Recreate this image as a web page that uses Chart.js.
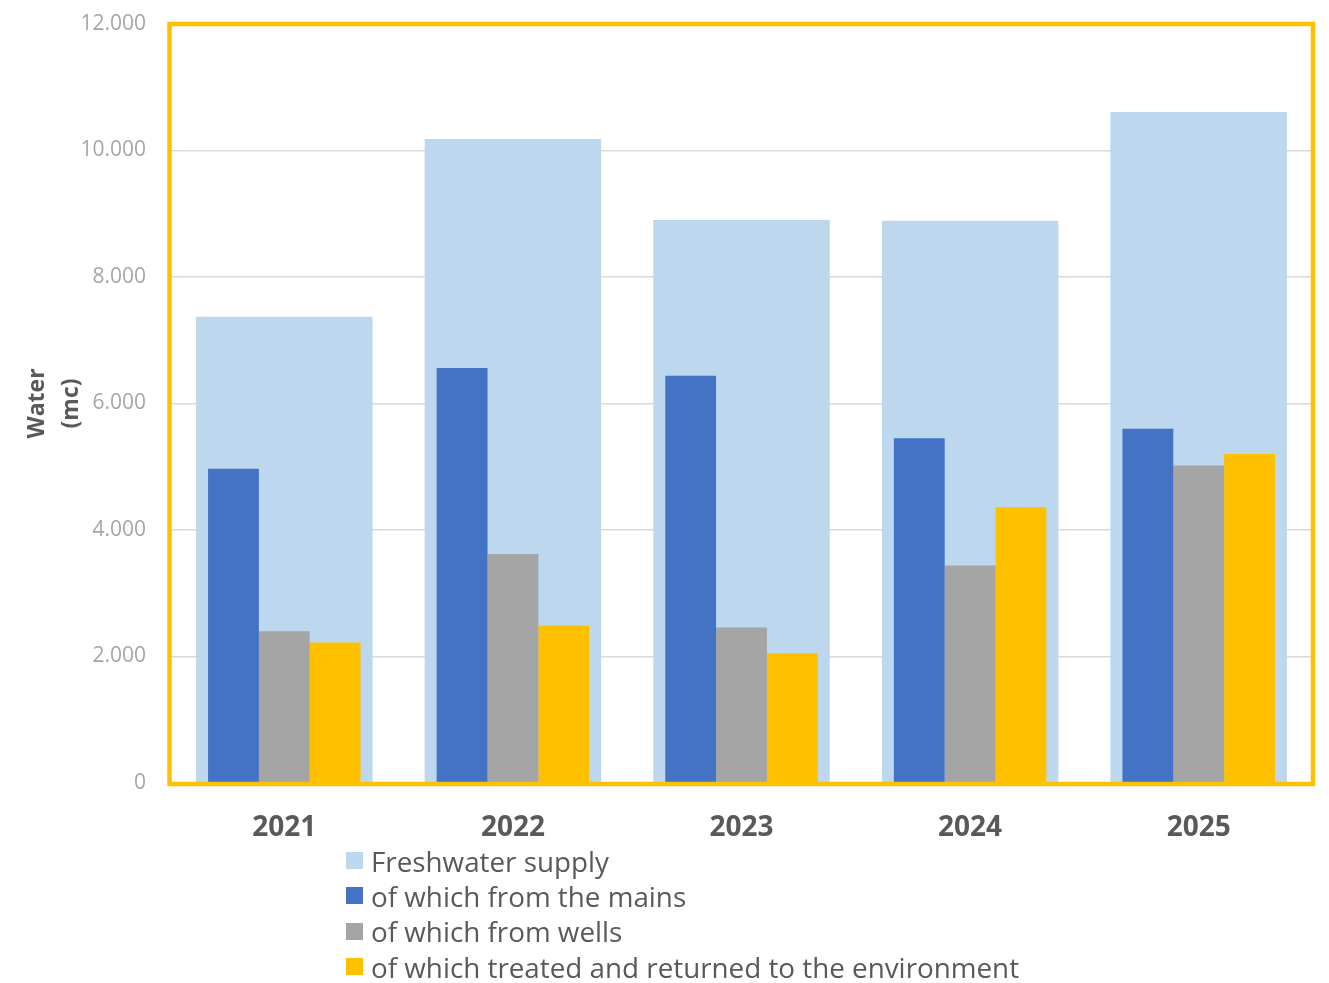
<!DOCTYPE html>
<html>
<head>
<meta charset="utf-8">
<title>Water</title>
<script src="https://cdn.jsdelivr.net/npm/chart.js@4.4.1/dist/chart.umd.min.js"></script>
<style>
  html, body { margin:0; padding:0; background:#fff; }
  #wrap { position:relative; width:1329px; height:983px; }
  #legend { position:absolute; left:346px; top:843px; font-family:'Open Sans', sans-serif; font-size:27.8px; color:#595959; }
  #legend .item { display:flex; align-items:center; height:35.3px; white-space:nowrap; }
  #legend .sw { width:17px; height:17px; margin-right:8px; flex:none; }
</style>
</head>
<body>
<div id="wrap">
  <canvas id="water" width="1329" height="983"></canvas>
  <div id="legend"></div>
</div>
<script>
// Consumo acqua per anno (mc)
const years      = ['2021', '2022', '2023', '2024', '2025'];
const freshwater = [7370, 10180, 8900, 8890, 10610];
const mains      = [4970, 6560, 6440, 5450, 5600];
const wells      = [2400, 3620, 2460, 3440, 5020];
const treated    = [2220, 2490, 2050, 4360, 5200];
const yTicks     = [0, 2000, 4000, 6000, 8000, 10000, 12000];

const fmt = v => String(v).replace(/\B(?=(\d{3})+(?!\d))/g, '.');
const ff = "'Open Sans', sans-serif";

// cornice gialla attorno all'area del grafico
const frame = {
  id: 'frame',
  afterDatasetsDraw(chart) {
    const a = chart.chartArea, ctx = chart.ctx;
    ctx.save();
    ctx.strokeStyle = '#FFC000';
    ctx.lineWidth = 4.5;
    ctx.strokeRect(a.left - 0.5, a.top, a.right - a.left + 0.5, a.bottom - a.top + 1);
    ctx.restore();
  }
};

const chart = new Chart(document.getElementById('water'), {
  type: 'bar',
  data: { labels: years, datasets: [
    // barra larga di sfondo, non raggruppata con le altre
    { label:'Freshwater supply', data:freshwater, backgroundColor:'#BDD7EE', grouped:false, order:1, categoryPercentage:0.772, barPercentage:1 },
    { label:'of which from the mains', data:mains, backgroundColor:'#4472C4', order:0, categoryPercentage:0.667, barPercentage:1 },
    { label:'of which from wells', data:wells, backgroundColor:'#A5A5A5', order:0, categoryPercentage:0.667, barPercentage:1 },
    { label:'of which treated and returned to the environment', data:treated, backgroundColor:'#FFC000', order:0, categoryPercentage:0.667, barPercentage:1 },
  ]},
  options: {
    responsive:false, animation:false,
    layout:{ autoPadding:false, padding:{ top:24, right:16, bottom:0, left:0 } },
    plugins:{ legend:{display:false}, tooltip:{enabled:false} },
    scales:{
      x:{ grid:{display:false}, border:{display:false},
          ticks:{ color:'#595959', font:{family:ff, size:28, weight:'bold'}, padding:20 },
          afterFit: s => { s.height = 200; } },
      y:{ min:0, max:12000, border:{display:false},
          grid:{ color:'#D9D9D9', lineWidth:1.5, drawTicks:false },
          afterBuildTicks: s => { s.ticks = yTicks.map(v => ({value:v})); },
          ticks:{ color:'#A6A6A6', font:{family:ff, size:21}, padding:24, callback: v => fmt(v) },
          title:{ display:true, text:['Water', '(mc)'], color:'#595959', font:{family:ff, size:23, weight:'bold', lineHeight:1.45}, padding:{top:21, bottom:0} },
          afterFit: s => { s.width = 170; s.paddingTop = 0; s.paddingBottom = 0; } }
    }
  },
  plugins:[frame]
});

// legenda verticale sotto il grafico
document.getElementById('legend').innerHTML = chart.data.datasets.map(d =>
  `<div class="item"><span class="sw" style="background:${d.backgroundColor}"></span>${d.label}</div>`).join('');
</script>
</body>
</html>
